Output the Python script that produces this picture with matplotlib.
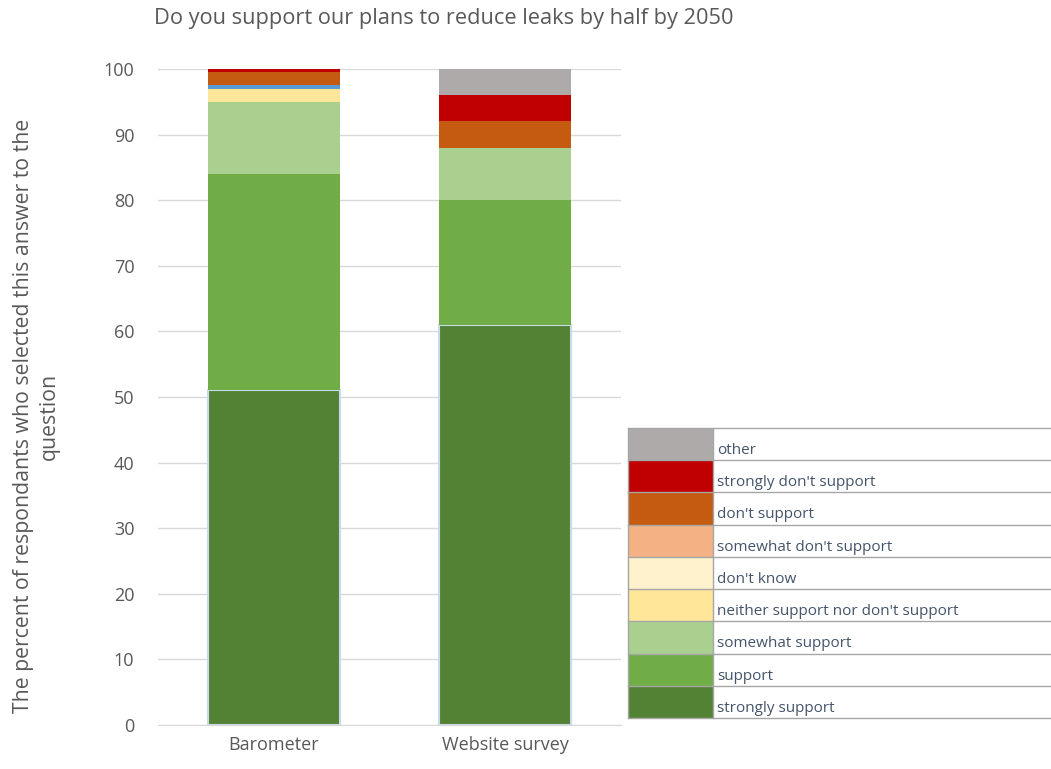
import numpy as np
import matplotlib.pyplot as plt
from matplotlib.patches import Rectangle

plt.rcParams['font.family'] = ['Open Sans', 'DejaVu Sans']

categories = ['Barometer', 'Website survey']

# series from bottom to top of the stack
series_names = ['strongly support', 'support', 'somewhat support',
                'neither support nor don\'t support', 'don\'t know',
                'unlabelled', 'somewhat don\'t support', 'don\'t support',
                'strongly don\'t support', 'other']
series_values = [
    [51, 61],
    [33, 19],
    [11, 8],
    [2, 0],
    [0, 0],
    [0.5, 0],
    [0, 0],
    [2, 4],
    [0.5, 4],
    [0, 4],
]
series_colors = ['#548235', '#70AD47', '#A9D08E', '#FFE699', '#FFF2CC',
                 '#5B9BD5', '#F4B183', '#C55A11', '#C00000', '#AEAAAA']

# legend order, top to bottom
legend_names = ['other', 'strongly don\'t support', 'don\'t support',
                'somewhat don\'t support', 'don\'t know',
                'neither support nor don\'t support', 'somewhat support',
                'support', 'strongly support']

title = 'Do you support our plans to reduce leaks by half by 2050'
ylabel = 'The percent of respondants who selected this answer to the\nquestion'

fig = plt.figure(figsize=(10.51, 7.69), dpi=100)
ax = fig.add_axes([158 / 1051, 1 - 725 / 769, 463 / 1051, 656 / 769])

x = np.arange(len(categories))
bottom = np.zeros(len(categories))
for i, (name, vals, col) in enumerate(zip(series_names, series_values, series_colors)):
    vals = np.array(vals, dtype=float)
    if i == 0:
        ax.bar(x, vals, 0.57, bottom=bottom, color=col, edgecolor='#C9D9EC',
               linewidth=1.5, zorder=2)
    else:
        ax.bar(x, vals, 0.57, bottom=bottom, color=col, linewidth=0, zorder=3)
    bottom += vals

ax.set_ylim(0, 100)
ax.set_xlim(-0.5, 1.5)
ax.set_yticks(range(0, 101, 10))
ax.set_xticks(x)
ax.set_xticklabels(categories)
ax.yaxis.grid(True, color='#D9D9D9', linewidth=1)
ax.set_axisbelow(True)
for s in ['top', 'right', 'left']:
    ax.spines[s].set_visible(False)
ax.spines['bottom'].set_color('#D9D9D9')
ax.tick_params(length=0, labelsize=13, colors='#595959')
ax.tick_params(axis='y', pad=17)
ax.tick_params(axis='x', pad=8)

fig.text(0.422, 0.976, title, ha='center', va='center', fontsize=15.7, color='#595959')
fig.text(0.035, 0.459, ylabel, ha='center', va='center', rotation=90,
         fontsize=15.3, color='#595959', linespacing=1.3)

# legend drawn as a table
lax = fig.add_axes([628 / 1051, 1 - 718 / 769, (1050 - 628) / 1051, (718 - 428) / 769])
lax.set_xlim(0, 422)
lax.set_ylim(0, len(legend_names))
lax.axis('off')
n = len(legend_names)
for k, name in enumerate(legend_names):
    y0 = n - k - 1
    col = series_colors[series_names.index(name)]
    lax.add_patch(Rectangle((0, y0), 85, 1, facecolor=col, edgecolor='none'))
    lax.text(89, y0 + 0.3, name, va='center', ha='left', fontsize=11, color='#44546A')
    lax.plot([0, 422], [y0, y0], color='#A6A6A6', linewidth=1, clip_on=False)
lax.plot([0, 422], [n, n], color='#A6A6A6', linewidth=1, clip_on=False)
lax.plot([0, 0], [0, n], color='#A6A6A6', linewidth=1, clip_on=False)
lax.plot([85, 85], [0, n], color='#A6A6A6', linewidth=1, clip_on=False)

fig.savefig('out.png', dpi=100)
